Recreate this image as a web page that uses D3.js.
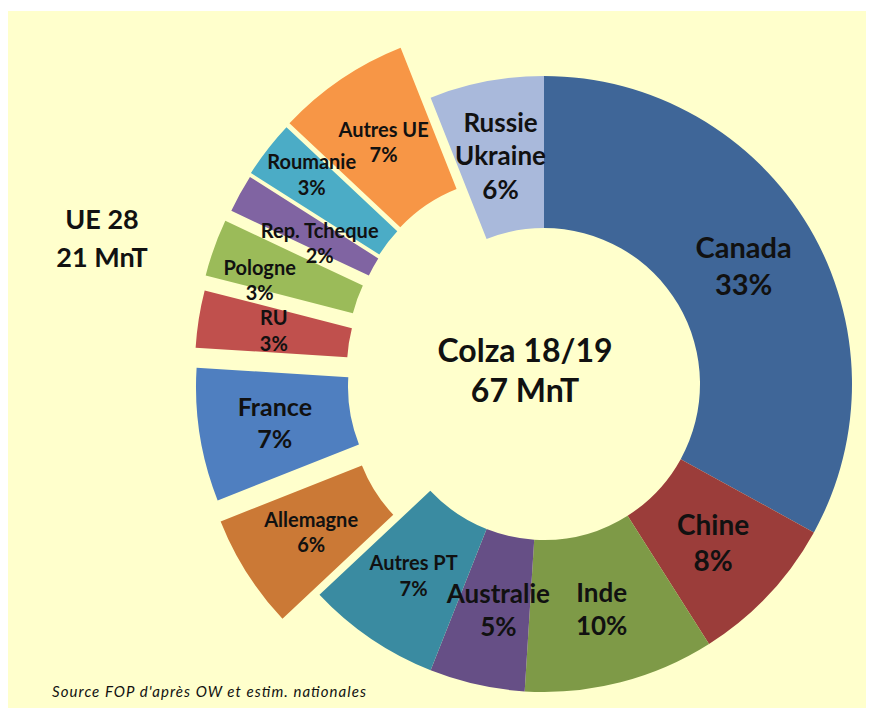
<!DOCTYPE html>
<html>
<head>
<meta charset="utf-8">
<script src="https://cdn.jsdelivr.net/npm/d3@7"></script>
<style>
  body { margin: 0; background: #ffffff; }
  svg text { font-family: Lato, "Open Sans", sans-serif; fill: #111; }
</style>
</head>
<body>
<svg width="871" height="713"></svg>
<script>
// data
const categories = ["Canada", "Chine", "Inde", "Australie", "Autres PT", "Allemagne", "France",
                    "RU", "Pologne", "Rep. Tcheque", "Roumanie", "Autres UE", "Russie\nUkraine"];
const shares = [33, 8, 10, 5, 7, 6, 7, 3, 3, 2, 3, 7, 6];
const euMembers = ["Allemagne", "France", "RU", "Pologne", "Rep. Tcheque", "Roumanie", "Autres UE"];
const centerTitle = ["Colza 18/19", "67 MnT"];
const euTitle = ["UE 28", "21 MnT"];
const sourceNote = "Source FOP d'après OW et estim. nationales";

// styles
const colors = ["#3f6698", "#9b3d3a", "#7e9a47", "#664f86", "#3a8ba1", "#cb7936", "#4f7fc0",
                "#c0504d", "#9bbb59", "#8064a2", "#4bacc6", "#f79646", "#a9b9db"];
const fontSize = [29, 28, 26, 26, 20, 20, 25, 20, 20, 20, 20, 20, 26];
// exploded slices are pushed out by hand in the original
const explode = {
  "Allemagne": [-37, 24], "France": [-40, 3], "RU": [-41, -17], "Pologne": [-40, -32],
  "Rep. Tcheque": [-34, -42], "Roumanie": [-33, -46], "Autres UE": [-30, -50]
};
const nudge = { "Pologne": [-26, 7], "Rep. Tcheque": [13, 13], "Roumanie": [-16, -21], "Australie": [5, 0] };

const svg = d3.select('svg');
const cx = 544, cy = 384;

// cream panel
svg.append('rect')
    .attr('x', 8).attr('y', 11)
    .attr('width', 858).attr('height', 697)
    .attr('fill', '#ffffcc');

const data = categories.map((c, i) => ({ name: c, share: shares[i], i: i }));

const pie = d3.pie()
    .sort(null)
    .value(d => d.share);

const arc = d3.arc()
    .innerRadius(156)
    .outerRadius(308);

const arcs = pie(data);

const offsetOf = d => euMembers.includes(d.data.name) ? explode[d.data.name] : [0, 0];

const g = svg.append('g')
    .attr('transform', `translate(${cx},${cy})`);

g.selectAll('path')
    .data(arcs)
    .enter()
    .append('path')
    .attr('transform', d => `translate(${offsetOf(d)})`)
    .attr('d', arc)
    .attr('fill', d => colors[d.data.i]);

// labels drawn after all slices: name lines + percentage around the centroid
g.selectAll('text.lbl')
    .data(arcs)
    .enter()
    .append('text')
    .attr('class', 'lbl')
    .attr('text-anchor', 'middle')
    .attr('font-weight', 'bold')
    .attr('font-size', d => fontSize[d.data.i])
    .each(function(d) {
        const size = fontSize[d.data.i];
        const lines = d.data.name.split('\n').concat([d.data.share + '%']);
        const gap = size * 1.27;
        const c = arc.centroid(d);
        const off = offsetOf(d);
        const n = nudge[d.data.name] || [0, 0];
        const x = c[0] + off[0] + n[0];
        const y0 = c[1] + off[1] + n[1] - (lines.length - 1) * gap / 2 + size * 0.36;
        lines.forEach((l, k) => {
            d3.select(this).append('tspan').attr('x', x).attr('y', y0 + k * gap).text(l);
        });
    });

// centre title
svg.append('text')
    .attr('text-anchor', 'middle')
    .attr('font-weight', 'bold')
    .attr('font-size', 32)
    .selectAll('tspan')
    .data(centerTitle)
    .enter()
    .append('tspan')
    .attr('x', 525)
    .attr('y', (d, i) => 362 + i * 40)
    .text(d => d);

// EU total
svg.append('text')
    .attr('text-anchor', 'middle')
    .attr('font-weight', 'bold')
    .attr('font-size', 27)
    .selectAll('tspan')
    .data(euTitle)
    .enter()
    .append('tspan')
    .attr('x', 102)
    .attr('y', (d, i) => 229 + i * 38)
    .text(d => d);

svg.append('text')
    .attr('x', 52).attr('y', 697)
    .attr('font-family', '"Open Sans", sans-serif')
    .attr('font-style', 'italic')
    .attr('font-size', 15)
    .attr('textLength', 314)
    .attr('lengthAdjust', 'spacing')
    .attr('fill', '#333')
    .text(sourceNote);
</script>
</body>
</html>
